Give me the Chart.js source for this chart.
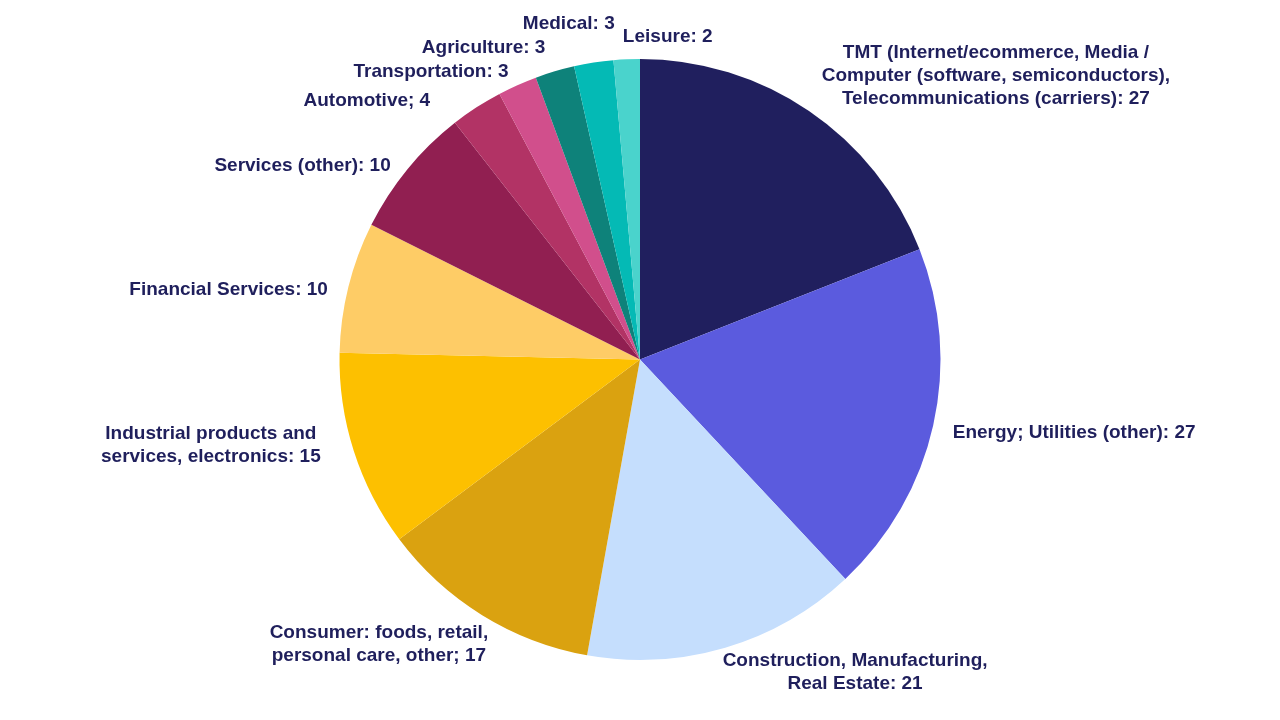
<!DOCTYPE html>
<html>
<head>
<meta charset="utf-8">
<script src="https://cdn.jsdelivr.net/npm/chart.js@4.4.1/dist/chart.umd.min.js"></script>
<style>
    html, body { margin: 0; padding: 0; background: #ffffff; }
    #wrap { width: 1280px; height: 720px; position: relative; }
</style>
</head>
<body>
<div id="wrap"><canvas id="sectorChart" width="1280" height="720"></canvas></div>
<script>
// Sector breakdown (pie)
const sectors = [
    ['TMT (Internet/ecommerce, Media /', 'Computer (software, semiconductors),', 'Telecommunications (carriers): 27'],
    ['Energy; Utilities (other): 27'],
    ['Construction, Manufacturing,', 'Real Estate: 21'],
    ['Consumer: foods, retail,', 'personal care, other; 17'],
    ['Industrial products and', 'services, electronics: 15'],
    ['Financial Services: 10'],
    ['Services (other): 10'],
    ['Automotive; 4'],
    ['Transportation: 3'],
    ['Agriculture: 3'],
    ['Medical: 3'],
    ['Leisure: 2']
];
const counts = [27, 27, 21, 17, 15, 10, 10, 4, 3, 3, 3, 2];
const sliceColors = [
    '#201F5E', '#5B5BDE', '#C5DEFD', '#DAA210', '#FDC000', '#FECC66',
    '#911F51', '#B23365', '#D14F8C', '#0E827A', '#04BAB5', '#4AD3CC'
];

// Small per-label nudges so the outside labels sit like the original
const labelNudge = [
    [2, -20], [1, 3], [-8, 6], [16, 13], [-15, -12], [-2, 7],
    [-2, 9], [-36, 9], [-1, 4], [-4, -5], [24, -20], [-3, -4]
];

const LABEL_FONT = 'bold 19px "Liberation Sans", Arial, sans-serif';
const LINE_H = 23;

// Draw labels outside each slice
const outsideLabels = {
    id: 'outsideLabels',
    afterDatasetsDraw(chart) {
        const ctx = chart.ctx;
        const meta = chart.getDatasetMeta(0);
        ctx.save();
        ctx.font = LABEL_FONT;
        ctx.fillStyle = '#1F1F5C';
        ctx.textBaseline = 'middle';
        ctx.textAlign = 'center';
        meta.data.forEach((arc, i) => {
            const mid = (arc.startAngle + arc.endAngle) / 2;
            const r = arc.outerRadius + 19;
            const ax = arc.x + Math.cos(mid) * r + labelNudge[i][0];
            const ay = arc.y + Math.sin(mid) * r + labelNudge[i][1];
            const lines = sectors[i];
            const w = Math.max(...lines.map(l => ctx.measureText(l).width));
            const leftSide = Math.cos(mid) < -0.1;
            const cx = leftSide ? ax - w / 2 : ax + w / 2;
            const top = ay - (lines.length - 1) * LINE_H / 2;
            lines.forEach((line, k) => {
                ctx.fillText(line, cx, top + k * LINE_H);
            });
        });
        ctx.restore();
    }
};

new Chart(document.getElementById('sectorChart'), {
    type: 'pie',
    data: {
        labels: sectors.map(s => s.join(' ')),
        datasets: [{
            data: counts,
            backgroundColor: sliceColors,
            borderWidth: 0
        }]
    },
    options: {
        responsive: false,
        animation: false,
        layout: { padding: { top: 59, bottom: 60 } },
        plugins: {
            legend: { display: false },
            tooltip: { enabled: false }
        }
    },
    plugins: [outsideLabels]
});
</script>
</body>
</html>
